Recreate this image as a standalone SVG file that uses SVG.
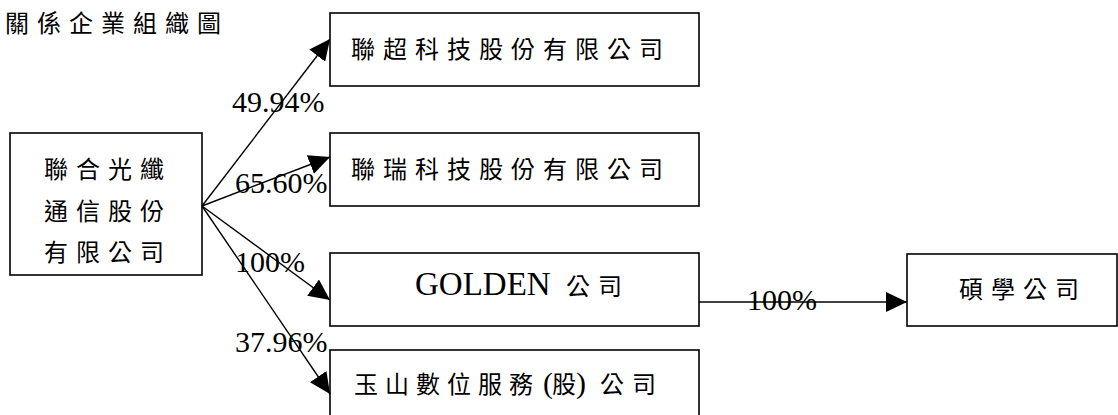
<svg xmlns="http://www.w3.org/2000/svg" width="1118" height="415" viewBox="0 0 1118 415">
<style>
.box{fill:#fff;stroke:#000;stroke-width:1.6}
.cjk{font-family:"Noto Sans CJK TC","Liberation Serif",serif;font-size:24px;letter-spacing:8px;fill:#000}
.lat{font-family:"Liberation Serif","Noto Sans CJK TC",serif;font-size:30px;fill:#000;letter-spacing:0}
.conn line{stroke:#000;stroke-width:1.4;marker-end:url(#arr)}
</style>
<defs>
<marker id="arr" markerUnits="userSpaceOnUse" markerWidth="22" markerHeight="20" refX="21" refY="10" orient="auto">
<path d="M0,0 L21,10 L0,20 z" fill="#000"/>
</marker>
</defs>
<rect width="1118" height="415" fill="#fff"/>
<text class="cjk" x="5" y="32">關係企業組織圖</text>
<g id="n-parent">
<rect class="box" x="10" y="133" width="192" height="142"/>
<text class="cjk" x="44" y="178">聯合光纖</text>
<text class="cjk" x="44" y="220">通信股份</text>
<text class="cjk" x="44" y="261">有限公司</text>
</g>
<g id="n-lianchao">
<rect class="box" x="330" y="13" width="369" height="73"/>
<text class="cjk" x="351" y="58">聯超科技股份有限公司</text>
</g>
<g id="n-lianrui">
<rect class="box" x="330" y="133" width="369" height="73"/>
<text class="cjk" x="351" y="178">聯瑞科技股份有限公司</text>
</g>
<g id="n-golden">
<rect class="box" x="330" y="253" width="369" height="73"/>
<text y="295"><tspan class="lat" x="415" style="font-size:33px">GOLDEN</tspan><tspan class="cjk" x="566">公司</tspan></text>
</g>
<g id="n-yushan">
<rect class="box" x="330" y="350" width="369" height="80"/>
<text y="393"><tspan class="cjk" x="354" style="letter-spacing:7px">玉山數位服務</tspan><tspan class="lat" x="543">(</tspan><tspan class="cjk" x="552" style="letter-spacing:0">股</tspan><tspan class="lat" x="576">)</tspan><tspan class="cjk" x="600">公司</tspan></text>
</g>
<g id="n-shuoxue">
<rect class="box" x="907" y="254" width="210" height="72"/>
<text class="cjk" x="959" y="298">碩學公司</text>
</g>
<g class="conn" id="connectors">
<line x1="202" y1="206" x2="330" y2="39"/>
<line x1="202" y1="206" x2="330" y2="157"/>
<line x1="202" y1="206" x2="330" y2="300"/>
<line x1="202" y1="206" x2="330" y2="394"/>
<line x1="699" y1="302" x2="907" y2="302"/>
</g>
<g id="labels">
<text class="lat" x="232" y="112">49.94%</text>
<text class="lat" x="235" y="193">65.60%</text>
<text class="lat" x="235" y="272">100%</text>
<text class="lat" x="235" y="352">37.96%</text>
<text class="lat" x="747" y="310">100%</text>
</g>
</svg>
